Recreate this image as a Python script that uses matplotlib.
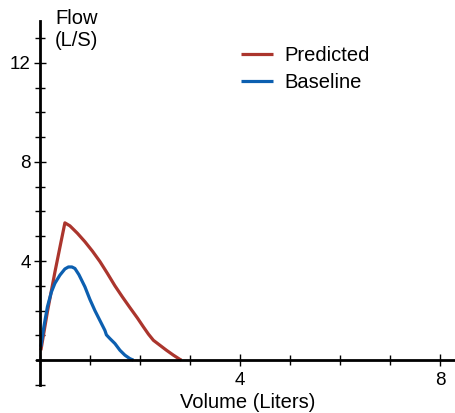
import numpy as np
import matplotlib.pyplot as plt
from matplotlib.ticker import MultipleLocator

plt.rcParams['font.family'] = ['Liberation Sans', 'DejaVu Sans']

# Curva prevista (volume em litros, fluxo em L/S)
pred_vol = [0.02, 0.15, 0.3, 0.42, 0.5, 0.6, 0.75, 0.9, 1.05, 1.2, 1.35, 1.5, 1.65, 1.8, 1.95, 2.07, 2.17, 2.27, 2.4, 2.53, 2.67, 2.8, 2.83]
pred_flow = [0.4, 1.95, 3.55, 4.75, 5.54, 5.42, 5.12, 4.78, 4.4, 3.98, 3.5, 3.0, 2.55, 2.12, 1.7, 1.34, 1.05, 0.8, 0.6, 0.4, 0.2, 0.03, 0.0]

# Curva basal
base_vol = [0.02, 0.08, 0.15, 0.23, 0.3, 0.4, 0.5, 0.57, 0.64, 0.7, 0.78, 0.9, 1.0, 1.1, 1.2, 1.3, 1.33, 1.4, 1.5, 1.6, 1.7, 1.8, 1.87]
base_flow = [0.54, 1.35, 2.15, 2.75, 3.1, 3.43, 3.68, 3.76, 3.76, 3.7, 3.45, 2.96, 2.45, 2.0, 1.6, 1.2, 1.02, 0.87, 0.67, 0.4, 0.2, 0.06, 0.0]

red = '#ab352d'
blue = '#0c5fb0'

fig = plt.figure(figsize=(4.56, 4.13), dpi=100)
ax = fig.add_axes([0.082, 0.068, 0.918, 0.882])

ax.plot(pred_vol, pred_flow, color=red, lw=2.3, label='Predicted', solid_capstyle='butt')
ax.plot(base_vol, base_flow, color=blue, lw=2.3, label='Baseline', solid_capstyle='butt')

ax.set_xlim(-0.05, 8.32)
ax.set_ylim(-1.0, 13.7)

for s in ['top', 'right']:
    ax.spines[s].set_visible(False)
ax.spines['left'].set_position(('data', 0))
ax.spines['bottom'].set_position(('data', 0))
ax.spines['left'].set_linewidth(2)
ax.spines['bottom'].set_linewidth(2)

ax.xaxis.set_minor_locator(MultipleLocator(1))
ax.yaxis.set_minor_locator(MultipleLocator(1))
ax.set_xticks([4, 8])
ax.set_yticks([4, 8, 12])
ax.tick_params(which='major', direction='inout', length=9, width=1, labelsize=13.5)
ax.tick_params(axis='x', which='major', pad=4)
ax.tick_params(axis='y', which='major', pad=2)
ax.tick_params(which='minor', direction='inout', length=7, width=1)

fig.text(55 / 456, 1 - 9 / 413, 'Flow\n(L/S)', fontsize=14.5, va='top', ha='left', linespacing=1.2)
fig.text(248 / 456, 1 - 408 / 413, 'Volume (Liters)', fontsize=14.5, va='baseline', ha='center')

ax.legend(loc='upper left', bbox_to_anchor=(241 / 456, 1 - 46 / 413), bbox_transform=fig.transFigure,
          frameon=False, fontsize=14.5, borderaxespad=0, borderpad=0,
          handlelength=1.6, handletextpad=0.55, labelspacing=0.4)

fig.savefig('out.png', dpi=100)
